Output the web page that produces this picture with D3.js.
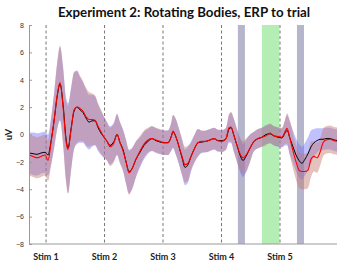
<!DOCTYPE html>
<meta charset="utf-8">
<title>Experiment 2: Rotating Bodies, ERP to trial</title>
<script src="https://d3js.org/d3.v7.min.js"></script>
<body style="margin:0;background:#fff">
<div id="viz"></div>
<script>
// time in ms relative to Stim 1 onset
const times = [-291,-222,-154,-85,-17,34,85,137,188,239,291,342,376,427,479,530,581,632,684,735,786,838,889,940,991,1043,1094,1162,1214,1265,1316,1368,1419,1470,1538,1607,1675,1744,1812,1880,1949,2017,2085,2137,2171,2222,2274,2325,2376,2427,2479,2530,2598,2667,2735,2803,2872,2940,3009,3077,3128,3162,3214,3265,3316,3368,3419,3487,3556,3624,3692,3761,3829,3897,3966,4034,4085,4120,4171,4222,4274,4325,4376,4427,4479,4530,4581,4632,4684,4735,4786,4855,4923,4991];
const redMean = [-1.5,-1.6,-1.7,-1.6,-1.5,-1.9,-0.6,1.0,2.8,3.8,2.0,-0.5,-1.1,0.3,1.8,2.0,1.9,1.7,1.3,1.1,1.1,1.05,0.6,0.2,-0.2,-0.5,-0.9,-0.6,0.0,-0.6,-1.2,-2.0,-2.8,-2.5,-1.8,-1.2,-0.7,-0.4,-0.3,-0.4,-0.5,-0.6,-0.6,-0.2,0.25,-0.2,-0.9,-1.6,-2.2,-2.1,-1.6,-1.1,-0.6,-0.5,-0.5,-0.4,-0.3,-0.45,-0.5,-0.3,0.5,0.55,-0.1,-0.8,-1.4,-1.7,-1.5,-1.0,-0.5,-0.3,-0.2,-0.1,0.1,-0.1,-0.15,-0.2,0.2,0.45,-0.3,-1.2,-2.0,-2.6,-2.7,-2.7,-2.6,-1.8,-1.6,-1.7,-1.3,-0.6,-0.4,-0.35,-0.45,-0.5];
const blackMean = [-1.35,-1.4,-1.45,-1.35,-1.3,-1.5,-0.5,1.0,2.7,3.7,2.2,-0.3,-1.0,0.4,1.7,2.0,1.8,1.6,1.2,0.9,1.0,1.0,0.5,0.1,-0.2,-0.5,-0.8,-0.5,0.0,-0.6,-1.1,-2.0,-2.7,-2.5,-1.8,-1.3,-0.8,-0.5,-0.3,-0.45,-0.55,-0.6,-0.6,-0.2,0.2,-0.2,-0.9,-1.7,-2.4,-2.2,-1.6,-1.1,-0.6,-0.55,-0.5,-0.4,-0.3,-0.45,-0.45,-0.3,0.4,0.5,-0.1,-0.8,-1.5,-1.9,-1.6,-1.0,-0.5,-0.3,-0.2,0.0,0.05,-0.1,-0.2,-0.25,0.1,0.3,-0.3,-0.9,-1.5,-1.9,-2.1,-1.8,-1.4,-0.9,-0.6,-0.45,-0.35,-0.35,-0.3,-0.3,-0.4,-0.45];
const redSE = [1.5,1.5,1.5,1.5,1.5,1.5,1.7,2.0,2.4,2.7,2.8,3.0,3.2,3.0,2.8,2.6,2.4,2.2,2.1,2.0,1.9,1.8,1.7,1.6,1.5,1.4,1.4,1.4,1.5,1.5,1.5,1.6,1.6,1.5,1.3,1.1,1.0,0.9,0.9,0.9,0.9,0.9,0.9,1.0,1.2,1.3,1.3,1.3,1.3,1.3,1.0,1.0,1.0,0.8,0.8,0.8,0.8,0.8,0.8,0.8,1.0,1.1,1.2,1.2,1.2,1.2,1.2,1.0,0.7,0.7,0.7,0.7,0.7,0.7,0.7,0.7,0.9,1.1,1.3,1.3,1.3,1.3,1.3,1.3,1.3,1.3,1.1,1.1,1.0,1.0,1.0,1.0,1.0,1.0];
const blackSE = [1.5,1.55,1.55,1.5,1.5,1.5,1.7,2.0,2.4,2.7,2.8,3.0,3.3,3.0,2.8,2.7,2.4,2.2,2.1,2.0,1.9,1.8,1.7,1.6,1.5,1.4,1.4,1.4,1.5,1.5,1.5,1.6,1.6,1.5,1.3,1.1,1.0,0.9,0.9,0.9,0.9,0.9,0.9,1.0,1.2,1.3,1.3,1.3,1.3,1.3,1.1,1.0,1.0,0.8,0.8,0.8,0.8,0.8,0.8,0.8,1.0,1.1,1.2,1.2,1.2,1.2,1.2,1.0,0.7,0.7,0.7,0.7,0.7,0.7,0.7,0.7,0.9,1.1,1.2,1.2,1.2,1.2,1.2,1.2,1.2,1.2,1.0,0.9,0.8,0.8,0.8,0.8,0.8,0.8];
const stimTimes = [0, 1000, 2000, 3000, 4000];
const stimLabels = ["Stim 1", "Stim 2", "Stim 3", "Stim 4", "Stim 5"];
const grayWindows = [[3280, 3400], [4290, 4410]];
const greenWindows = [[3690, 3990]];
const yTicks = [-8, -6, -4, -2, 0, 2, 4, 6, 8];

const width = 337, height = 264;
const svg = d3.select("#viz").append("svg")
  .attr("width", width).attr("height", height)
  .style("font-family", "Lato, 'Open Sans', sans-serif");

const x = d3.scaleLinear().domain([-300, 5000]).range([28.5, 338.5]);
const y = d3.scaleLinear().domain([-8, 8]).range([244, 25]);

const rows = times.map((t, i) => ({t, r: redMean[i], b: blackMean[i], rs: redSE[i], bs: blackSE[i]}));

// analysis windows
svg.selectAll(".gw").data(grayWindows).join("rect")
  .attr("x", d => x(d[0])).attr("width", d => x(d[1]) - x(d[0]))
  .attr("y", y(8)).attr("height", y(-8) - y(8))
  .attr("fill", "#b5b5cc");
svg.selectAll(".gr").data(greenWindows).join("rect")
  .attr("x", d => x(d[0])).attr("width", d => x(d[1]) - x(d[0]))
  .attr("y", y(8)).attr("height", y(-8) - y(8))
  .attr("fill", "#b5eeb5");

// stimulus onsets
svg.selectAll(".stim").data(stimTimes).join("line")
  .attr("x1", d => x(d)).attr("x2", d => x(d))
  .attr("y1", y(8)).attr("y2", y(-8))
  .attr("stroke", "#666").attr("stroke-width", 0.9)
  .attr("stroke-dasharray", "3,2.5");

const area = (m, s) => d3.area()
  .x(d => x(d.t)).y0(d => y(d[m] - d[s])).y1(d => y(d[m] + d[s]))
  .curve(d3.curveMonotoneX);
const line = m => d3.line().x(d => x(d.t)).y(d => y(d[m])).curve(d3.curveMonotoneX);

const plot = svg.append("g");
plot.append("path").datum(rows).attr("d", area("b", "bs"))
  .attr("fill", "#6868ff").attr("fill-opacity", 0.42);
plot.append("path").datum(rows).attr("d", area("r", "rs"))
  .attr("fill", "#c47a70").attr("fill-opacity", 0.45);
plot.append("path").datum(rows).attr("d", line("b"))
  .attr("fill", "none").attr("stroke", "#000").attr("stroke-width", 1);
plot.append("path").datum(rows).attr("d", line("r"))
  .attr("fill", "none").attr("stroke", "#f00").attr("stroke-width", 1.1);

// axes
const yAxis = svg.append("g").attr("transform", `translate(${x(-300) + 0.5},0)`)
  .call(d3.axisRight(y).tickValues(yTicks).tickSize(3).tickFormat(d3.format("d")));
yAxis.select(".domain").attr("stroke", "#999");
yAxis.selectAll(".tick line").attr("stroke", "#999");
yAxis.selectAll(".tick text").attr("x", -5).attr("text-anchor", "end")
  .attr("fill", "#333").style("font-size", "7px");

svg.append("line")
  .attr("x1", x(-300) + 0.5).attr("x2", width).attr("y1", y(-8)).attr("y2", y(-8))
  .attr("stroke", "#999");

svg.selectAll(".stimlab").data(stimTimes).join("text")
  .attr("x", d => x(d)).attr("y", 260)
  .attr("text-anchor", "middle")
  .style("font-size", "9px").style("font-weight", "bold").attr("fill", "#222")
  .text((d, i) => stimLabels[i]);

svg.append("text")
  .attr("transform", `translate(12,${y(0)}) rotate(-90)`)
  .attr("text-anchor", "middle")
  .style("font-size", "9.5px").style("font-weight", "bold").attr("fill", "#222")
  .text("uV");

svg.append("text")
  .attr("x", 184).attr("y", 17)
  .attr("text-anchor", "middle")
  .style("font-size", "13.3px").style("font-weight", "bold").attr("fill", "#111")
  .text("Experiment 2: Rotating Bodies, ERP to trial");
</script>
</body>
